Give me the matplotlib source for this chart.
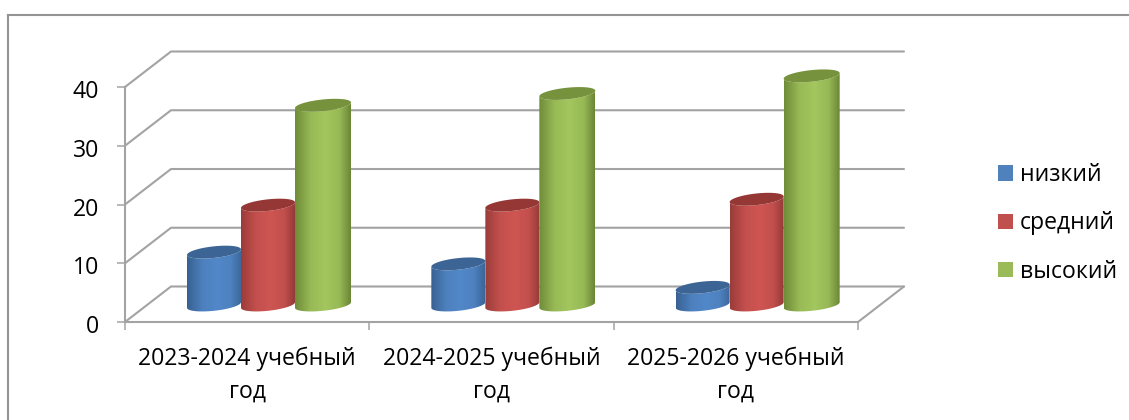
import numpy as np
import matplotlib
matplotlib.use("Agg")
import matplotlib.pyplot as plt
from matplotlib.colors import LinearSegmentedColormap, to_rgb
from matplotlib.lines import Line2D
from matplotlib.patches import Patch, Polygon
from matplotlib.transforms import ScaledTranslation

categories = ["2023-2024 учебный\nгод", "2024-2025 учебный\nгод", "2025-2026 учебный\nгод"]
low = [9, 7, 3]
medium = [17, 17, 18]
high = [34, 36, 39]
series_names = ["низкий", "средний", "высокий"]
y_ticks = [0, 10, 20, 30, 40]

W, H = 1129, 420
plt.rcParams["font.family"] = ["Open Sans", "DejaVu Sans"]
FS = 16.6
GREY = "#a3a3a3"
styles = [
    dict(flat="#4f81bd", top="#3c6494", left="#386192", mid="#5288c9", right="#3b6697"),
    dict(flat="#c0504d", top="#953735", left="#9a3c3a", mid="#ce5552", right="#953a38"),
    dict(flat="#9bbb59", top="#76923c", left="#6f8c38", mid="#a3c65e", right="#6b8636"),
]

fig = plt.figure(figsize=(W / 100, H / 100), dpi=100, facecolor="white")
L, R, B, T = 125, 858, 322, 87
ax = fig.add_axes([L / W, 1 - B / H, (R - L) / W, (B - T) / H])
ax.set_xlim(0, 3)
ax.set_ylim(0, 40)
PX = (R - L) / 3       # pixels per category
PY = (B - T) / 40      # pixels per value unit
DX, DY = 46 / PX, 35.5 / PY

# Outer chart frame
frame = dict(color="#949494", lw=1.5, transform=fig.transFigure)
fig.add_artist(Line2D([8 / W, 8 / W], [0, 1 - 15 / H], **frame))
fig.add_artist(Line2D([8 / W, 1], [1 - 15 / H, 1 - 15 / H], **frame))

# 3-D walls and floor
line = dict(color=GREY, lw=1.5, clip_on=False, zorder=1, solid_capstyle="round")
for v in y_ticks:
    ax.plot([0, DX, 3 + DX], [v, v + DY, v + DY], **line)
ax.plot([3, 3 + DX], [0, DY], **line)

ax.spines[["top", "right"]].set_visible(False)
ax.spines[["left", "bottom"]].set_color(GREY)
ax.spines[["left", "bottom"]].set_linewidth(1.5)
ax.set_yticks(y_ticks)
ax.set_xticks(range(4))
ax.set_xticklabels([])
ax.set_xticks([0.5, 1.5, 2.5], categories, minor=True, linespacing=1.45)
ax.tick_params(axis="y", color=GREY, width=1.1, length=5.5, pad=13, labelsize=FS)
ax.tick_params(axis="x", which="major", color=GREY, width=1.1, length=6)
ax.tick_params(axis="x", which="minor", length=0, pad=18, labelsize=FS)
for lab in ax.get_yticklabels():
    lab.set_transform(lab.get_transform() + ScaledTranslation(0, -2 / 100, fig.dpi_scale_trans))


def blend(a, b, f):
    return tuple((1 - f) * np.array(to_rgb(a)) + f * np.array(to_rgb(b)))


def cylinder(cx_px, half_w_px, value, st, z):
    base_y = 17 / PY
    t = np.linspace(0, 2 * np.pi, 121)
    ca, sa = np.cos(t), np.sin(t)
    hw = half_w_px / PX
    ex = hw * ca
    ey = (5.8 * sa + 2.8 * ca) / PY
    cx = cx_px / PX
    top = base_y + value
    lower = t >= np.pi
    order = np.argsort(ex[lower])
    bx, by = ex[lower][order], ey[lower][order]
    side = np.column_stack([
        np.r_[cx + bx, cx + bx[::-1]],
        np.r_[base_y + by, top + by[::-1]],
    ])
    poly = Polygon(side, closed=True, transform=ax.transData, fc="none", ec="none", zorder=z)
    ax.add_patch(poly)
    poly.set_clip_on(False)
    cmap = LinearSegmentedColormap.from_list("c", [
        (0, st["left"]), (0.28, blend(st["left"], st["mid"], 0.8)), (0.55, st["mid"]),
        (0.8, blend(st["right"], st["mid"], 0.8)), (1, st["right"])])
    grad = np.linspace(0, 1, 128).reshape(1, -1)
    im = ax.imshow(grad, cmap=cmap, aspect="auto", zorder=z, interpolation="bilinear",
                   extent=[cx - hw, cx + hw, 0, 45])
    im.set_clip_path(poly)
    im.set_clip_box(fig.bbox)
    cap = Polygon(np.column_stack([cx + ex, top + ey]), closed=True, fc=st["top"],
                  ec="none", zorder=z + 0.1, clip_on=False)
    ax.add_patch(cap)


offsets = [89, 143, 198]
half_widths = [27, 27, 28]
for s, values in enumerate([low, medium, high]):
    for c, v in enumerate(values):
        cylinder(c * PX + offsets[s], half_widths[s], v, styles[s], 3 + s)
ax.set_xlim(0, 3)
ax.set_ylim(0, 40)

# Legend
handles = [Patch(fc=st["flat"], ec="none") for st in styles]
fig.legend(handles, series_names, loc="upper left", bbox_to_anchor=(991 / W, 1 - 156 / H),
           bbox_transform=fig.transFigure, frameon=False, fontsize=FS,
           handlelength=0.65, handleheight=0.65, handletextpad=0.3, labelspacing=1.06,
           borderpad=0.3, borderaxespad=0)

fig.savefig("out.png", dpi=100)
